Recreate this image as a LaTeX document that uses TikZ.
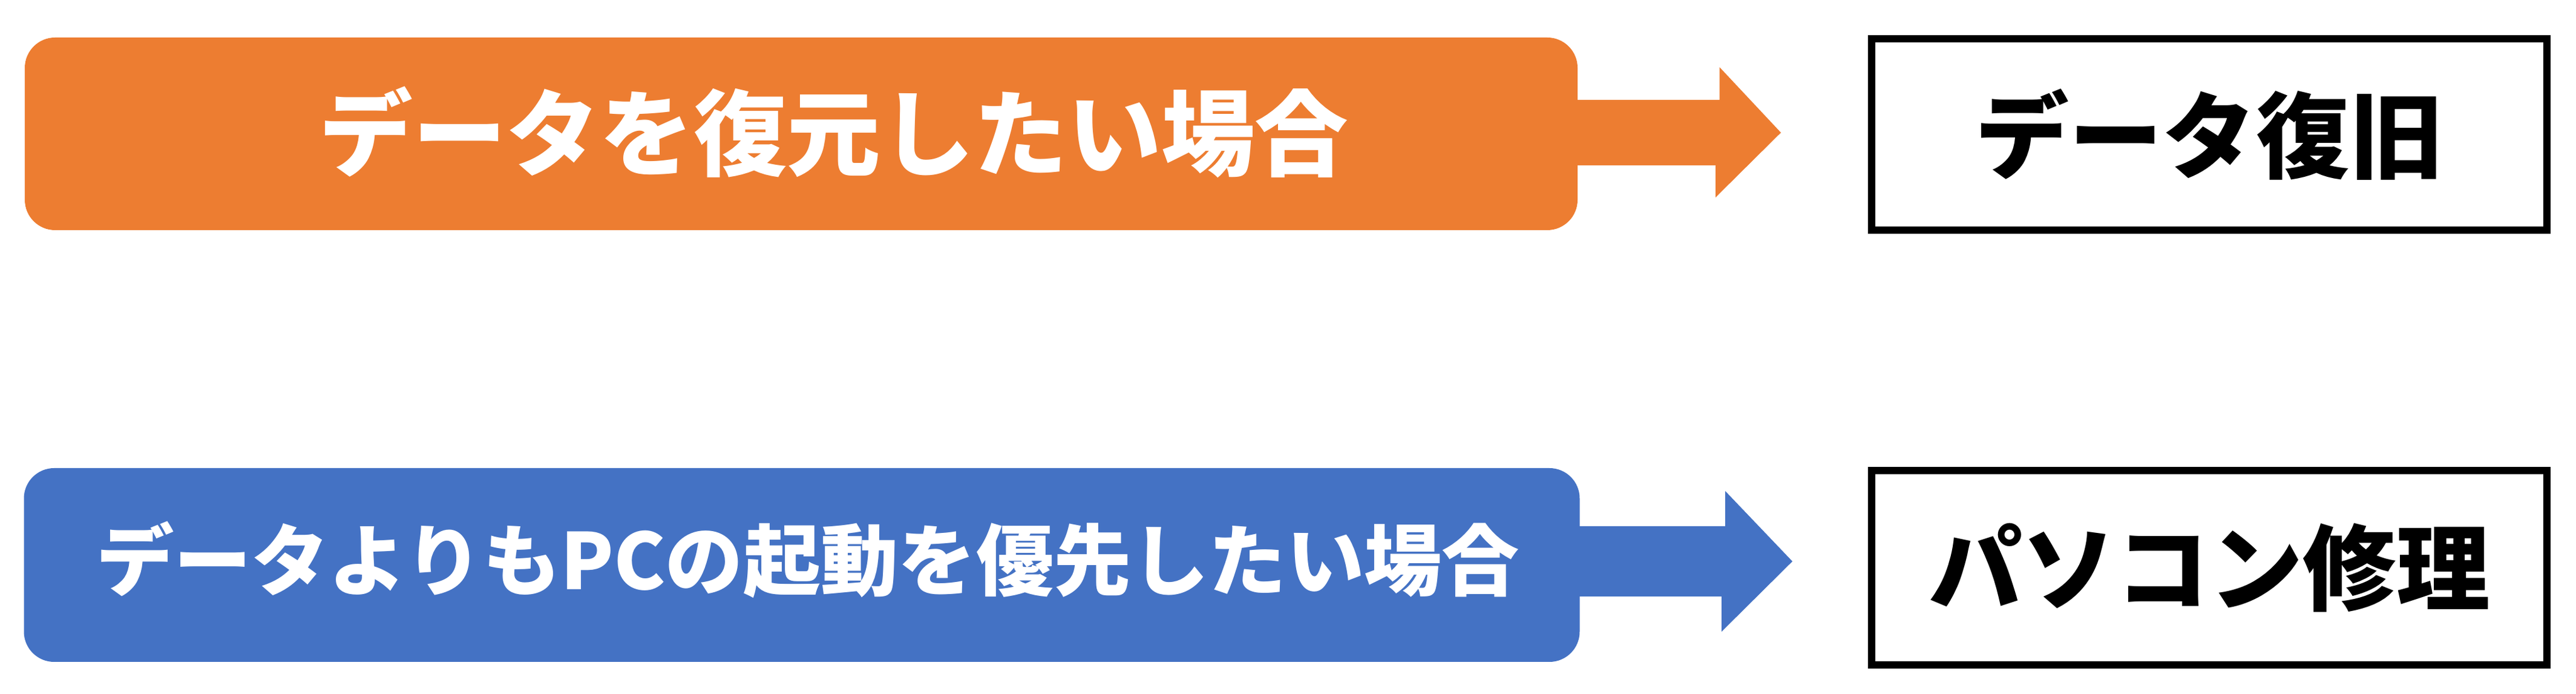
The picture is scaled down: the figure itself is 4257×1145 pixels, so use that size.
\documentclass[tikz,border=0pt]{standalone}
\usepackage{fontspec}
\newfontfamily\jpfont{Noto Sans CJK JP}
\definecolor{caseorange}{HTML}{ED7D31}
\definecolor{caseblue}{HTML}{4472C4}
\tikzset{
  casebox/.style={rounded corners=5mm, inner sep=0pt, minimum height=31.8mm},
  casetext/.style={text=white, inner sep=0pt, font=\jpfont\bfseries\fontsize{44pt}{50pt}\selectfont},
  resultbox/.style={draw=black, line width=1.2mm, minimum width=111.6mm, inner sep=0pt,
    font=\jpfont\bfseries\fontsize{44pt}{50pt}\selectfont},
}
\begin{document}
\begin{tikzpicture}[x=0.1mm,y=0.1mm]
\useasboundingbox (0,0) rectangle (4257,1145);
% upper row
\node[casebox, fill=caseorange, minimum width=256.6mm] (restore) at (1324,924) {};
\node[casetext] (restoretext) at (1378,927) {データを復元したい場合};
\node[resultbox, minimum height=31.6mm] (datafix) at (3651,923) {データ復旧};
\fill[caseorange] ([xshift=-1mm,yshift=5.6mm]restore.east) -- ++(244,0) -- ++(0,54)
  -- ([xshift=-14.4mm,yshift=0.3mm]datafix.west) -- ++(-108,-107) -- ++(0,53)
  -- ([xshift=-1mm,yshift=-5.2mm]restore.east) -- cycle;
% lower row
\node[casebox, fill=caseblue, minimum width=257.1mm, minimum height=32mm] (boot) at (1325,212) {};
\node[casetext, font=\jpfont\bfseries\fontsize{36.5pt}{42pt}\selectfont] (boottext) at (1335,221) {データよりもPCの起動を優先したい場合};
\node[resultbox, minimum height=32.1mm] (pcfix) at (3651,207) {パソコン修理};
\fill[caseblue] ([xshift=-1mm,yshift=6.4mm]boot.east) -- ++(250,0) -- ++(0,58)
  -- ([xshift=-12.5mm,yshift=1.1mm]pcfix.west) -- ++(-117,-116) -- ++(0,58)
  -- ([xshift=-1mm,yshift=-5.2mm]boot.east) -- cycle;
\end{tikzpicture}
\end{document}
